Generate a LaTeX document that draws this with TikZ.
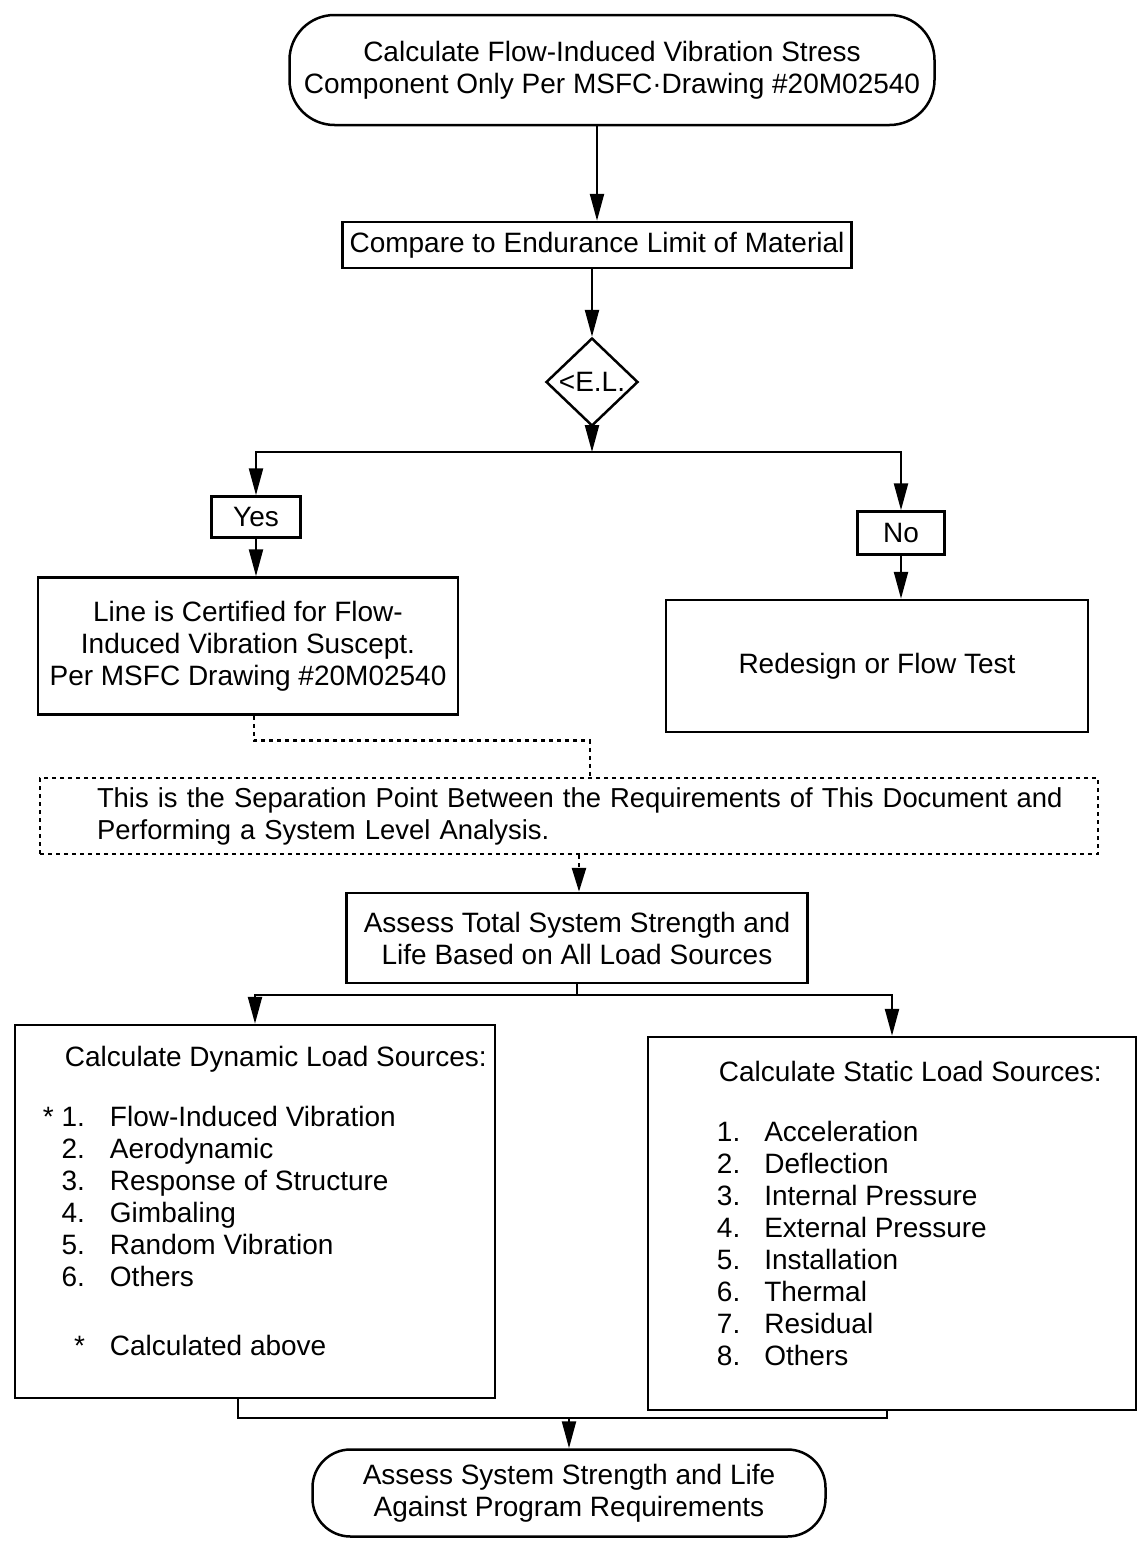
\documentclass[tikz,border=0pt]{standalone}
\usepackage{fontspec}
\setmainfont{Liberation Sans}
\usetikzlibrary{arrows.meta,shapes.geometric}
\begin{document}
\begin{tikzpicture}[x=1pt,y=-1pt,
  every node/.style={font=\fontsize{28}{32}\selectfont},
  box/.style={draw, line width=2.5pt, align=center, inner sep=0pt},
  term/.style={box, rounded corners=45pt},
  arr/.style={line width=2.3pt, -{Triangle[length=27pt,width=14pt]}},
  ln/.style={line width=2.3pt},
  dsh/.style={line width=2.6pt, dash pattern=on 4pt off 4pt},
]
\fill[white] (0,0) rectangle (1140,1547);
\useasboundingbox (0,0) rectangle (1140,1547);

% top terminal
\node[term, minimum width=645pt, minimum height=110pt] (top) at (612,70)
  {Calculate Flow-Induced Vibration Stress\\Component Only Per MSFC·Drawing \#20M02540};
\node[box, minimum width=509pt, minimum height=46pt] (cmp) at (597,245)
  {Compare to Endurance Limit of Material};
\draw[arr] (cmp.north |- top.south) -- (cmp.north);

% decision
\node[diamond, draw, line width=2.5pt, minimum width=92pt, minimum height=88pt, inner sep=0pt] (dia) at (592,382) {};
\node[inner sep=0pt] (dialbl) at (dia.center) {<E.L.};
\draw[arr] (dia.north |- cmp.south) -- (dia.north);

\coordinate (j1) at (592,452);
\draw[arr] (dia.south) -- (j1);
\node[box, minimum width=89pt, minimum height=41pt] (yes) at (256,517) {Yes};
\node[box, minimum width=87pt, minimum height=43pt] (no) at (901,533) {No};
\draw[arr] (j1) -| (yes.north);
\draw[arr] (j1) -| (no.north);

\node[box, minimum width=420pt, minimum height=137pt] (cert) at (248,646)
  {Line is Certified for Flow-\\Induced Vibration Suscept.\\Per MSFC Drawing \#20M02540};
\draw[arr] (yes.south) -- (yes.south |- cert.north);
\node[box, minimum width=422pt, minimum height=132pt] (red) at (877,666) {Redesign or Flow Test};
\draw[arr] (no.south) -- (no.south |- red.north);

% separation box
\node[box, dsh, minimum width=1058pt, minimum height=76pt, text width=1040pt, align=left,
      font=\fontsize{27.4}{32}\selectfont] (sep) at (569,816)
  {\hspace*{48pt}This is the Separation Point Between the Requirements of This Document and\\
   \hspace*{48pt}Performing a System Level Analysis.};
\draw[dsh] ([xshift=6pt]cert.south) -- ++(0,25) -| ([xshift=21pt]sep.north);

\node[box, minimum width=461pt, minimum height=90pt] (ass) at (577,938)
  {Assess Total System Strength and\\Life Based on All Load Sources};
\coordinate (d1) at ([xshift=10pt]sep.south);
\draw[dsh, -{Triangle[length=24pt,width=14pt]}] (d1) -- (d1 |- ass.north);

% load source boxes
\coordinate (j2) at (577,995);
\draw[ln] (ass.south) -- (j2);
\node[box, minimum width=480pt, minimum height=373pt] (dyn) at (255,1211.5) {};
\node[box, minimum width=488pt, minimum height=373pt] (sta) at (892,1223.5) {};
\draw[arr] (j2) -| (dyn.north);
\draw[arr] (j2) -| (sta.north);

\node[anchor=north west, inner sep=0pt] (dyntxt) at ([xshift=29pt,yshift=-20pt]dyn.north west)
 {\begin{tabular}{@{}r@{\hspace{25pt}}l@{}}
  \multicolumn{2}{@{}l@{}}{\hspace*{22pt}Calculate Dynamic Load Sources:}\\[28pt]
  * 1. & Flow-Induced Vibration\\
  2. & Aerodynamic\\
  3. & Response of Structure\\
  4. & Gimbaling\\
  5. & Random Vibration\\
  6. & Others\\[37pt]
  * & Calculated above
  \end{tabular}};

\node[anchor=north west, inner sep=0pt] (statxt) at ([xshift=70pt,yshift=-23pt]sta.north west)
 {\begin{tabular}{@{}r@{\hspace{24pt}}l@{}}
  \multicolumn{2}{@{}l@{}}{\hspace*{2pt}Calculate Static Load Sources:}\\[28pt]
  1. & Acceleration\\
  2. & Deflection\\
  3. & Internal Pressure\\
  4. & External Pressure\\
  5. & Installation\\
  6. & Thermal\\
  7. & Residual\\
  8. & Others
  \end{tabular}};

% bottom terminal
\node[term, rounded corners=38pt, minimum width=513pt, minimum height=87pt] (fin) at (569,1493)
  {Assess System Strength and Life\\Against Program Requirements};
\coordinate (j3) at (569,1418);
\draw[ln] ([xshift=-17pt]dyn.south) |- (j3) -| ([xshift=-5pt]sta.south);
\draw[arr] (j3) -- (fin.north);
\end{tikzpicture}
\end{document}
